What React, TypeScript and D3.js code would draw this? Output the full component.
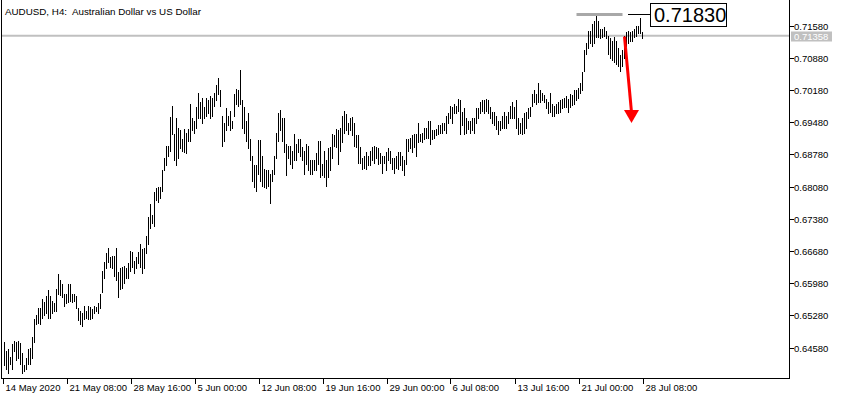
import React from "react";
import * as d3 from "d3";

const title = "AUDUSD, H4:  Australian Dollar vs US Dollar";

const highs = [
  0.6469,0.6451,0.6454,0.6438,0.6465,0.6473,0.6471,0.6473,0.6467,0.6447,
  0.6421,0.6436,0.6454,0.6458,0.6480,0.6519,0.6528,0.6543,0.6543,0.6564,
  0.6556,0.6571,0.6584,0.6571,0.6560,0.6554,0.6586,0.6617,0.6604,0.6597,
  0.6575,0.6575,0.6597,0.6597,0.6575,0.6575,0.6571,0.6543,0.6538,0.6534,
  0.6549,0.6538,0.6549,0.6545,0.6541,0.6549,0.6545,0.6554,0.6575,0.6625,
  0.6643,0.6663,0.6675,0.6654,0.6658,0.6658,0.6675,0.6623,0.6630,0.6632,
  0.6636,0.6630,0.6641,0.6668,0.6665,0.6647,0.6654,0.6665,0.6682,0.6673,
  0.6675,0.6701,0.6741,0.6771,0.6745,0.6795,0.6804,0.6806,0.6808,0.6843,
  0.6869,0.6897,0.6897,0.6960,0.6982,0.6923,0.6956,0.6936,0.6930,0.6912,
  0.6934,0.6925,0.6934,0.6988,0.6956,0.6951,0.6980,0.7012,0.6991,0.7001,
  0.6980,0.7001,0.6995,0.7004,0.7001,0.7012,0.7028,0.7043,0.7017,0.6962,
  0.6945,0.6978,0.6962,0.6973,0.6951,0.7010,0.7019,0.7017,0.7062,0.6995,
  0.6980,0.6951,0.6967,0.6912,0.6875,0.6854,0.6854,0.6910,0.6910,0.6875,
  0.6847,0.6843,0.6843,0.6836,0.6843,0.6875,0.6925,0.6967,0.6975,0.6958,
  0.6956,0.6901,0.6897,0.6897,0.6886,0.6923,0.6901,0.6912,0.6912,0.6893,
  0.6886,0.6901,0.6897,0.6865,0.6865,0.6865,0.6880,0.6908,0.6908,0.6858,
  0.6886,0.6865,0.6891,0.6893,0.6923,0.6921,0.6934,0.6930,0.6936,0.6962,
  0.6973,0.6965,0.6947,0.6956,0.6960,0.6947,0.6919,0.6919,0.6893,0.6871,
  0.6875,0.6882,0.6875,0.6886,0.6893,0.6895,0.6893,0.6891,0.6880,0.6875,
  0.6875,0.6882,0.6891,0.6886,0.6871,0.6869,0.6875,0.6882,0.6882,0.6875,
  0.6865,0.6912,0.6912,0.6914,0.6919,0.6923,0.6923,0.6945,0.6923,0.6925,
  0.6936,0.6936,0.6951,0.6951,0.6930,0.6930,0.6934,0.6941,0.6941,0.6945,
  0.6947,0.6962,0.6967,0.6984,0.6980,0.6988,0.6984,0.6999,0.6995,0.6969,
  0.6978,0.6956,0.6951,0.6951,0.6956,0.6956,0.6978,0.6978,0.6991,0.6995,
  0.6995,0.6999,0.6995,0.6980,0.6969,0.6969,0.6962,0.6951,0.6951,0.6962,
  0.6969,0.6962,0.6969,0.6984,0.6991,0.6980,0.6995,0.6956,0.6947,0.6956,
  0.6967,0.6969,0.6978,0.6980,0.7010,0.7017,0.7010,0.7034,0.7017,0.7012,
  0.7006,0.6999,0.6991,0.7012,0.6988,0.6984,0.6988,0.6991,0.6997,0.6999,
  0.7001,0.7004,0.6999,0.7010,0.7006,0.7017,0.7017,0.7023,0.7034,0.7056,
  0.7104,0.7119,0.7145,0.7145,0.7162,0.7167,0.7183,0.7167,0.7151,0.7151,
  0.7154,0.7147,0.7136,0.7130,0.7125,0.7132,0.7125,0.7110,0.7093,0.7104,
  0.7136,0.7143,0.7147,0.7143,0.7147,0.7151,0.7158,0.7158,0.7175,0.7143,
];

const lows = [
  0.6419,0.6412,0.6402,0.6423,0.6412,0.6451,0.6430,0.6436,0.6423,0.6402,
  0.6408,0.6412,0.6423,0.6423,0.6436,0.6469,0.6510,0.6512,0.6510,0.6523,
  0.6528,0.6534,0.6523,0.6523,0.6532,0.6538,0.6538,0.6575,0.6573,0.6567,
  0.6549,0.6554,0.6556,0.6560,0.6556,0.6560,0.6543,0.6517,0.6510,0.6504,
  0.6521,0.6523,0.6519,0.6521,0.6523,0.6532,0.6538,0.6534,0.6543,0.6578,
  0.6610,0.6630,0.6643,0.6632,0.6630,0.6614,0.6604,0.6567,0.6586,0.6588,
  0.6599,0.6610,0.6610,0.6625,0.6632,0.6619,0.6630,0.6641,0.6632,0.6619,
  0.6630,0.6663,0.6684,0.6717,0.6728,0.6723,0.6778,0.6775,0.6784,0.6799,
  0.6843,0.6854,0.6875,0.6886,0.6923,0.6865,0.6854,0.6871,0.6891,0.6886,
  0.6882,0.6880,0.6908,0.6908,0.6930,0.6925,0.6936,0.6958,0.6956,0.6947,
  0.6958,0.6962,0.6967,0.6958,0.6962,0.6984,0.6995,0.7010,0.6984,0.6897,
  0.6908,0.6930,0.6941,0.6930,0.6936,0.6962,0.6988,0.6984,0.6988,0.6936,
  0.6925,0.6908,0.6891,0.6865,0.6821,0.6806,0.6799,0.6836,0.6821,0.6810,
  0.6806,0.6804,0.6810,0.6773,0.6821,0.6836,0.6869,0.6908,0.6930,0.6908,
  0.6882,0.6832,0.6871,0.6858,0.6849,0.6865,0.6865,0.6882,0.6875,0.6865,
  0.6836,0.6858,0.6843,0.6836,0.6836,0.6843,0.6843,0.6858,0.6828,0.6832,
  0.6828,0.6810,0.6828,0.6843,0.6871,0.6897,0.6893,0.6858,0.6886,0.6904,
  0.6925,0.6930,0.6923,0.6930,0.6919,0.6897,0.6893,0.6860,0.6860,0.6847,
  0.6849,0.6847,0.6854,0.6854,0.6865,0.6860,0.6869,0.6858,0.6860,0.6838,
  0.6860,0.6843,0.6865,0.6860,0.6847,0.6838,0.6849,0.6847,0.6854,0.6843,
  0.6832,0.6858,0.6886,0.6891,0.6882,0.6893,0.6875,0.6904,0.6908,0.6904,
  0.6912,0.6914,0.6914,0.6901,0.6912,0.6914,0.6919,0.6923,0.6925,0.6925,
  0.6930,0.6925,0.6947,0.6956,0.6947,0.6967,0.6967,0.6973,0.6923,0.6941,
  0.6923,0.6925,0.6934,0.6925,0.6930,0.6925,0.6947,0.6958,0.6967,0.6973,
  0.6967,0.6973,0.6967,0.6958,0.6947,0.6941,0.6934,0.6923,0.6930,0.6936,
  0.6936,0.6936,0.6947,0.6958,0.6956,0.6956,0.6936,0.6923,0.6925,0.6923,
  0.6925,0.6936,0.6956,0.6962,0.6984,0.6991,0.6988,0.6991,0.6991,0.6995,
  0.6991,0.6978,0.6967,0.6969,0.6962,0.6962,0.6967,0.6967,0.6971,0.6978,
  0.6980,0.6980,0.6969,0.6980,0.6986,0.6988,0.6995,0.7001,0.7012,0.7017,
  0.7060,0.7097,0.7110,0.7119,0.7114,0.7121,0.7132,0.7132,0.7130,0.7132,
  0.7136,0.7130,0.7097,0.7088,0.7082,0.7078,0.7075,0.7071,0.7060,0.7071,
  0.7088,0.7114,0.7121,0.7125,0.7125,0.7132,0.7136,0.7141,0.7141,0.7130,
];

const priceTicks = [0.7158, 0.7088, 0.7018, 0.6948, 0.6878, 0.6808, 0.6738, 0.6668, 0.6598, 0.6528, 0.6458];
const timeLabels = [
  "14 May 2020", "21 May 08:00", "28 May 16:00", "5 Jun 00:00", "12 Jun 08:00",
  "19 Jun 16:00", "29 Jun 00:00", "6 Jul 08:00", "13 Jul 16:00", "21 Jul 00:00", "28 Jul 08:00",
];
const timeLabelIndex = [-1, 31, 63, 95, 127, 159, 191, 223, 255, 287, 319];

const bidPrice = 0.71358;
const levelPrice = 0.7183;
const levelStartIndex = 286;
const levelEndIndex = 309;
const arrowFrom = { index: 310, price: 0.7134 };
const arrowTo = { index: 313.5, price: 0.6946 };

export default function App() {
  const W = 842, H = 400;
  const left = 1.5, right = 789.5, bottom = 378.5;
  const x = d3.scaleLinear().domain([-1, 319]).range([2.5, 642.5]);
  const y = d3.scaleLinear().domain([0.6458, 0.7158]).range([347.5, 25.5]);
  const font = "Liberation Sans, Arial, sans-serif";

  const yBid = y(bidPrice);
  const yLevel = Math.round(y(levelPrice)) + 0.5;
  const ax = x(arrowFrom.index), ay = y(arrowFrom.price);
  const bx = x(arrowTo.index), by = y(arrowTo.price);

  return (
    <svg width={W} height={H} style={{ position: "fixed", left: 0, top: 0, background: "#fff" }}>
      <rect x={0} y={0} width={W} height={H} fill="#fff" />
      {/* bid line */}
      <line x1={left} x2={right} y1={yBid} y2={yBid} stroke="#c0c0c0" strokeWidth={2} />
      {/* bars */}
      <g shapeRendering="crispEdges">
        {highs.map((h, i) => (
          <line key={i} x1={x(i)} x2={x(i)}
            y1={Math.round(y(h))} y2={Math.round(y(lows[i])) + 1}
            stroke="#000" strokeWidth={1} />
        ))}
      </g>
      {/* frame */}
      <g shapeRendering="crispEdges" stroke="#000" strokeWidth={1}>
        <line x1={left} x2={left} y1={0} y2={bottom} />
        <line x1={right} x2={right} y1={0} y2={bottom} />
        <line x1={left} x2={right} y1={bottom} y2={bottom} />
      </g>
      {/* price axis */}
      {priceTicks.map((p) => {
        const yy = Math.round(y(p)) + 0.5;
        return (
          <g key={p}>
            <line x1={right} x2={right + 4} y1={yy} y2={yy} stroke="#000" shapeRendering="crispEdges" />
            <text x={794} y={yy + 3.5} fontFamily={font} fontSize={9.5} fill="#000">{p.toFixed(5)}</text>
          </g>
        );
      })}
      <rect x={791} y={Math.round(yBid) - 4.5} width={41} height={10} fill="#c0c0c0" />
      <text x={794} y={Math.round(yBid) + 3.5} fontFamily={font} fontSize={9.5} fill="#fff">{bidPrice.toFixed(5)}</text>
      {/* time axis */}
      {timeLabels.map((t, k) => {
        const xx = Math.round(x(timeLabelIndex[k])) + 0.5;
        return (
          <g key={t}>
            <line x1={xx} x2={xx} y1={bottom} y2={bottom + 5} stroke="#000" shapeRendering="crispEdges" />
            <text x={xx + 2} y={391} fontFamily={font} fontSize={9.5} fill="#000">{t}</text>
          </g>
        );
      })}
      {/* title */}
      <text x={5} y={15} fontFamily={font} fontSize={9.8} fill="#000" style={{ whiteSpace: "pre" }}>{title}</text>
      {/* resistance level */}
      <line x1={x(levelStartIndex)} x2={x(levelEndIndex)} y1={yLevel} y2={yLevel} stroke="#a8a8a8" strokeWidth={3} />
      <line x1={628} x2={650} y1={yLevel} y2={yLevel} stroke="#000" strokeWidth={1} shapeRendering="crispEdges" />
      <rect x={650.5} y={3.5} width={76} height={23} fill="#fff" stroke="#000" strokeWidth={1} shapeRendering="crispEdges" />
      <text x={654} y={22} fontFamily={font} fontSize={20} fill="#000">{levelPrice.toFixed(5)}</text>
      {/* red arrow */}
      <line x1={ax} x2={bx} y1={ay} y2={by - 11} stroke="#ff0000" strokeWidth={3} />
      <path d={`M${bx - 7.5},${by - 13} L${bx + 7.5},${by - 13} L${bx},${by} Z`} fill="#ff0000" />
    </svg>
  );
}
